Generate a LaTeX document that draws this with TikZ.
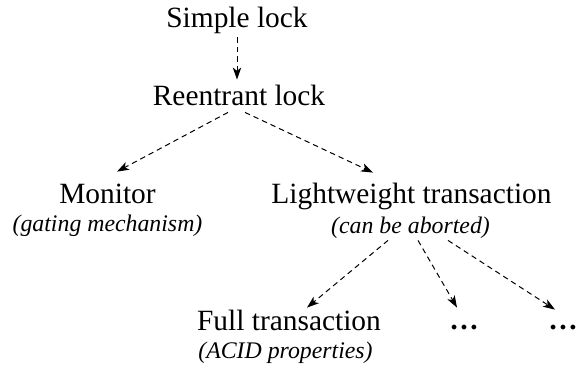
\documentclass[tikz,border=0pt]{standalone}
\usepackage{fontspec}
\setmainfont{Liberation Serif}
\usepackage{tikz}
\usetikzlibrary{arrows.meta, positioning, calc}

\tikzset{
    lock/.style={inner sep=0pt, anchor=base, text height=10.5pt, text depth=3pt,
        font=\fontsize{14.7}{17}\selectfont},
    note/.style={inner sep=0pt, anchor=base, text height=8.5pt, text depth=3pt,
        font=\fontsize{11.9}{14}\selectfont\itshape},
    refines/.style={draw, line width=0.5pt, dash pattern=on 2.7pt off 2pt,
        -{Stealth[length=6pt, width=4.2pt, inset=1.6pt]}}
}

\begin{document}
\begin{tikzpicture}[x=0.5pt, y=-0.5pt]
    \useasboundingbox (0,0) rectangle (576,369);

    % Locks
    \node[lock] (simple) at (237,28) {Simple lock};
    \node[lock] (reentrant) at (239,105) {Reentrant lock};

    % Second level
    \node[lock] (monitor) at (107.5,203) {Monitor};
    \node[note] (gating) at (107.5,231) {(gating mechanism)};
    \node[lock] (lightweight) at (411.5,203) {Lightweight transaction};
    \node[note] (aborted) at (410.5,233) {(can be aborted)};

    % Third level
    \node[lock] (full) at (289,330) {Full transaction};
    \node[note] (acid) at (285.5,358) {(ACID properties)};
    \node[lock] (dotsA) at (464,329) {\bfseries\ldots};
    \node[lock] (dotsB) at (563,329) {\bfseries\ldots};

    \draw[refines] ([yshift=-1.5pt]simple.south) -- ([yshift=2pt]simple.south |- reentrant.north);
    \draw[refines] ([shift={(-5.5pt,-0.5pt)}]reentrant.south) -- ([shift={(4.75pt,5pt)}]monitor.north);
    \draw[refines] ([shift={(3pt,-0.5pt)}]reentrant.south) -- ([shift={(-19.25pt,4.5pt)}]lightweight.north);
    \draw[refines] ([shift={(-11.25pt,-0.5pt)}]aborted.south) -- ([shift={(9pt,0.5pt)}]full.north);
    \draw[refines] ([shift={(3.75pt,-0.5pt)}]aborted.south) -- ([shift={(-3.5pt,0pt)}]dotsA.north);
    \draw[refines] ([shift={(18.75pt,-0.5pt)}]aborted.south) -- ([shift={(-4pt,-1pt)}]dotsB.north);
\end{tikzpicture}
\end{document}
